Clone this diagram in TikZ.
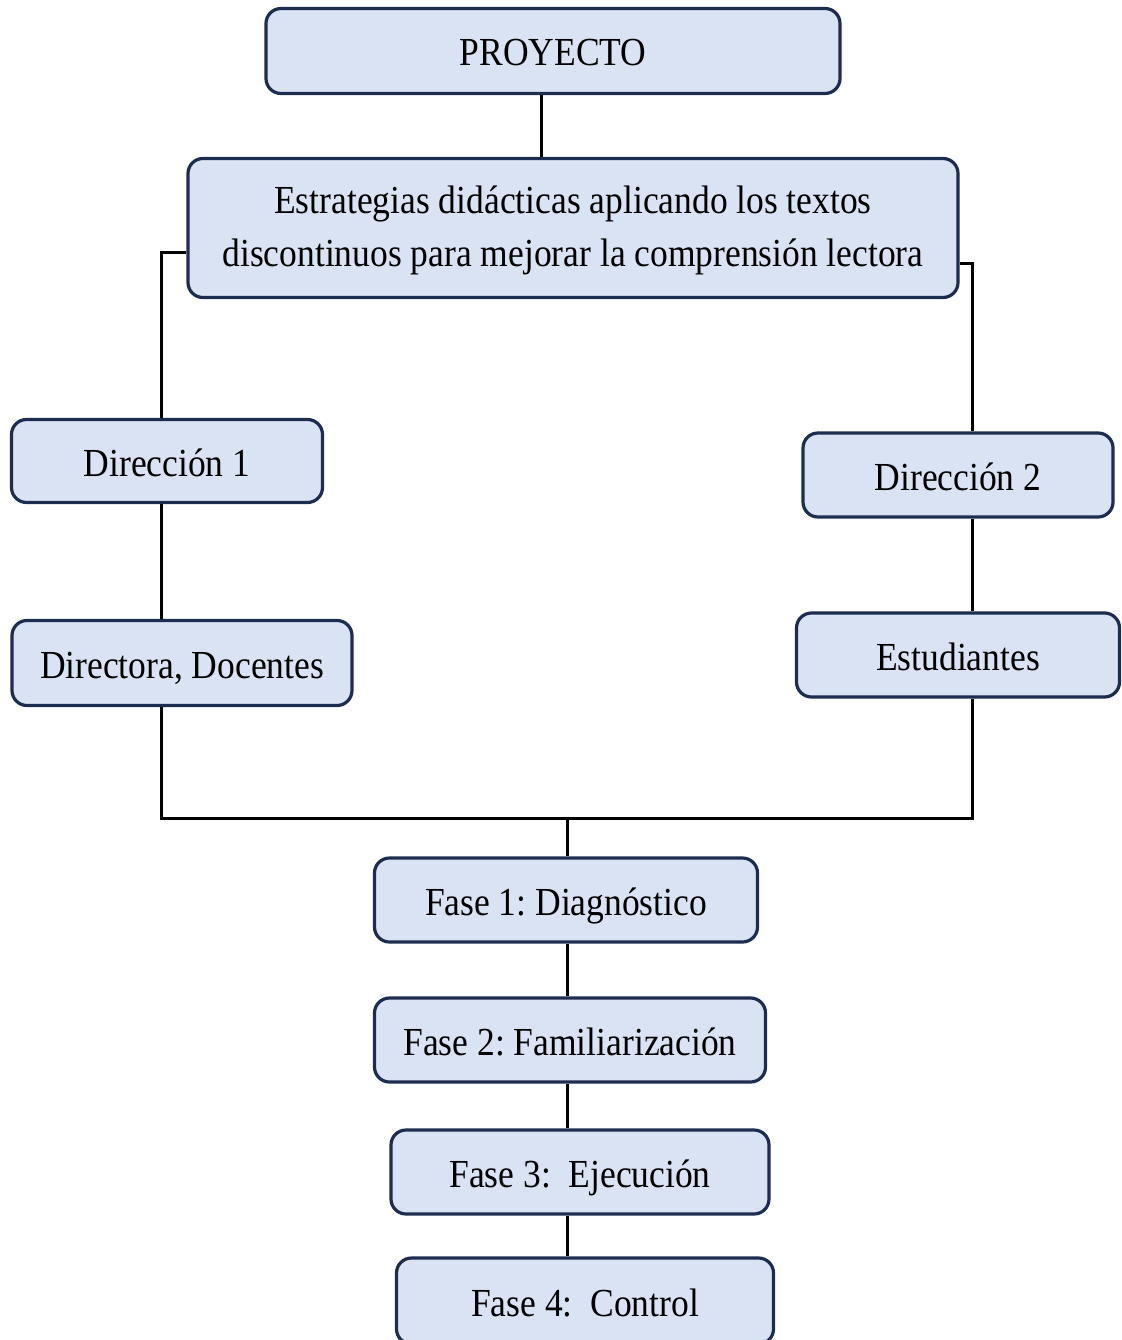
\documentclass[tikz,border=0pt]{standalone}
\usepackage{graphicx}
\usepackage{fontspec}
\setmainfont{Liberation Serif}
\frenchspacing
\newcommand{\tallt}[1]{\scalebox{1}[1.12]{#1}}
\begin{document}
\begin{tikzpicture}[x=1pt,y=-1pt,
  boxbase/.style={draw=boxline, fill=boxfill, line width=3.2pt, rounded corners=15pt,
    inner sep=0pt, align=center, font=\fontsize{35.5}{53}\selectfont, text=black},
  box/.style={boxbase, text height=38pt, text depth=8pt},
  conn/.style={draw=black, line width=3pt}]
\definecolor{boxfill}{HTML}{DAE3F3}
\definecolor{boxline}{HTML}{1C2D4F}
\useasboundingbox (0,0) rectangle (1121,1340);
\clip (0,0) rectangle (1121,1340);
% nodes
\node[box, minimum width=574pt, minimum height=85pt] (P) at (553,51) {\tallt{PROYECTO}};
\node[boxbase, minimum width=770pt, minimum height=139pt] (E) at (573,228)
  {\raisebox{-8pt}{\tallt{\begin{tabular}{@{}c@{}}Estrategias didácticas aplicando los textos\\[-6pt]discontinuos para mejorar la comprensión lectora\end{tabular}}}};
\node[box, minimum width=311pt, minimum height=83pt] (D1) at (167,461) {\tallt{Dirección 1}};
\node[box, minimum width=310pt, minimum height=84pt] (D2) at (958,475) {\tallt{Dirección 2}};
\node[box, minimum width=340pt, minimum height=85pt] (DD) at (182,663) {\tallt{Directora, Docentes}};
\node[box, minimum width=323pt, minimum height=84pt] (ES) at (958,655) {\tallt{Estudiantes}};
\node[box, minimum width=383pt, minimum height=84pt] (F1) at (566,900) {\tallt{Fase 1: Diagnóstico}};
\node[box, minimum width=391pt, minimum height=84pt] (F2) at (570,1040) {\tallt{Fase 2: Familiarización}};
\node[box, minimum width=378pt, minimum height=84pt] (F3) at (580,1172) {\tallt{Fase 3:\ \ Ejecución}};
\node[box, minimum width=377pt, minimum height=86pt] (F4) at (585,1301) {\tallt{Fase 4:\ \ Control}};
% helper coordinates
\coordinate (t) at (541,0);
\coordinate (l) at (161,253);
\coordinate (r) at (972,263);
\coordinate (b) at (567,818);
% connectors
\draw[conn] (P.south -| t) -- (E.north -| t);
\draw[conn] (E.west |- l) -| (D1.north -| l);
\draw[conn] (E.east |- r) -| (D2.north -| r);
\draw[conn] (D1.south -| l) -- (DD.north -| l);
\draw[conn] (D2.south -| r) -- (ES.north -| r);
\draw[conn] (DD.south -| l) -- (l |- b) -- (r |- b) -- (ES.south -| r);
\draw[conn] (b) -- (F1.north -| b);
\draw[conn] (F1.south -| b) -- (F2.north -| b);
\draw[conn] (F2.south -| b) -- (F3.north -| b);
\draw[conn] (F3.south -| b) -- (F4.north -| b);
\end{tikzpicture}
\end{document}
